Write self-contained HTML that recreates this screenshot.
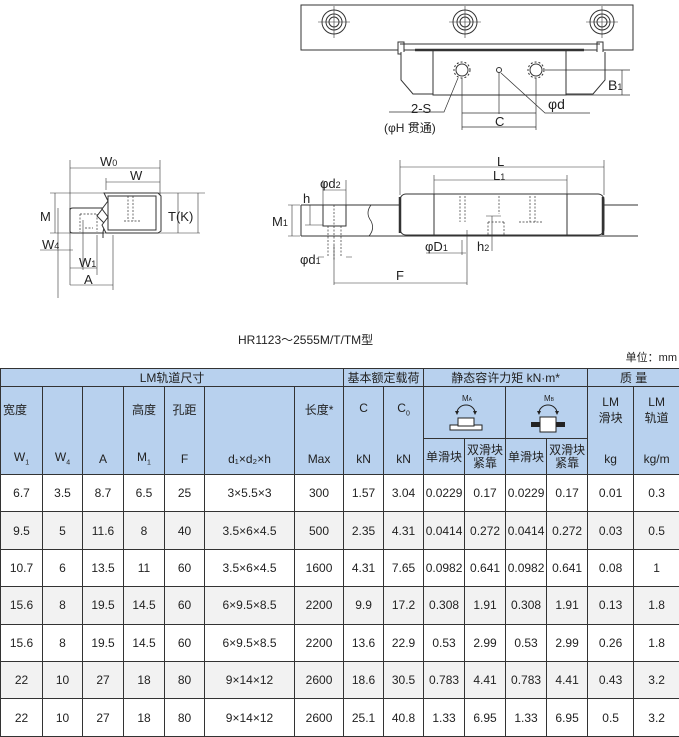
<!DOCTYPE html>
<html><head><meta charset="utf-8"><style>
body{margin:0;width:679px;height:736px;background:#fff;position:relative;overflow:hidden;font-family:"Liberation Sans","Noto Sans CJK SC",sans-serif;color:#222}
svg text{font-family:"Liberation Sans","Noto Sans CJK SC",sans-serif;fill:#222}
table{position:absolute;left:0;top:368px;border-collapse:collapse;table-layout:fixed;width:679px;font-size:12px}
td{border:1px solid #333;text-align:center;padding:0;position:relative}
.h td{background:#b8d1ee}
.d td{height:36.4px}
.g td{background:#f2f2f2}
.t{position:absolute;left:0;right:0;top:14px}
.b{position:absolute;left:0;right:0;bottom:8px}
.tt{position:absolute;left:0;right:0;top:8px}
</style></head><body>
<svg width="679" height="360" style="position:absolute;left:0;top:0" stroke="#333" fill="none" stroke-width="1">
<rect x="301" y="5" width="332" height="45"/>
<g>
<circle cx="334" cy="22" r="12"/><circle cx="334" cy="22" r="8"/><circle cx="334" cy="22" r="5"/>
<circle cx="465" cy="22" r="12"/><circle cx="465" cy="22" r="8"/><circle cx="465" cy="22" r="5"/>
<circle cx="602" cy="22" r="12"/><circle cx="602" cy="22" r="8"/><circle cx="602" cy="22" r="5"/>
<path d="M318 22h32M334 6v32M449 22h32M465 6v32M586 22h32M602 6v32" stroke-width=".6"/>
</g>
<rect x="398" y="42" width="6" height="12" fill="#fff"/><rect x="597" y="42" width="6" height="12" fill="#fff"/>
<path d="M400 44h200 M401 52v28l12 14h180l12-14v-28" fill="#fff"/>
<rect x="433" y="50" width="133" height="45" fill="#fff"/>
<path d="M415 50h169" stroke-width="2.5"/>
<circle cx="462" cy="70" r="6"/><circle cx="462" cy="70" r="8" stroke-dasharray="2 2"/>
<circle cx="536" cy="70" r="6"/><circle cx="536" cy="70" r="8" stroke-dasharray="2 2"/>
<circle cx="499" cy="70" r="2.5"/>
<path d="M462 78v52M536 78v52M499 72v42M462 113h74M462 127h74M545 70h85M566 95h64M622 70v25M458 78l-14 34h-55M501 73l44 40h45" stroke-width=".7"/>
<text x="608" y="90" font-size="14" stroke="none">B<tspan font-size="9">1</tspan></text>
<text x="411" y="113" font-size="13" stroke="none">2-S</text>
<text x="384" y="132" font-size="12" stroke="none">(φH 贯通)</text>
<text x="548" y="109" font-size="14" stroke="none">φd</text>
<text x="495" y="126" font-size="13" stroke="none">C</text>
<path d="M70 210 q0-2 3-2 h30 l-6 8 l8 8 l-2 8 v6 M72 233h32 M70 208v23q0 2 3 2" fill="#fff"/>
<path d="M106 193h52l3 3v35l-3 2h-52l-4-8 6-8-6-8 6-8-4-8z" fill="#fff"/>
<rect x="108" y="196" width="48" height="34" fill="none"/>
<path d="M80 214v18M97 214v18M80 214h17M85 228h8M128 196v25M133 196v25M124 221h16" stroke-dasharray="2 1.5" stroke-width=".7"/>
<path d="M70 160v125M160 160v35M106 178v12M70 168h90M106 182h54M50 193h132M50 233h150M55 193v40M178 193v40M198 193v40M40 250h33M58 208v90M83 220v50M97 235v40M113 235v55M70 268h27M70 285h43M160 193h45" stroke-width=".6"/>
<text x="100" y="166" font-size="13" stroke="none">W<tspan font-size="9">0</tspan></text>
<text x="130" y="180" font-size="13" stroke="none">W</text>
<text x="40" y="221" font-size="13" stroke="none">M</text>
<text x="168" y="221" font-size="13" stroke="none">T(K)</text>
<text x="42" y="249" font-size="13" stroke="none">W<tspan font-size="9">4</tspan></text>
<text x="79" y="267" font-size="13" stroke="none">W<tspan font-size="9">1</tspan></text>
<text x="84" y="284" font-size="13" stroke="none">A</text>
<path d="M301 205h337M301 236h337M301 205v31" />
<path d="M371 205q-6 8 0 16q4 8 -2 15" stroke-width=".8" fill="#fff"/>
<rect x="400" y="194" width="204" height="41" rx="6" fill="#fff"/>
<path d="M400 197v36M603 197v38" stroke-width="2.5"/>
<path d="M434 194v41M567 194v41"/>
<rect x="323" y="205" width="23" height="21" fill="#fff"/>
<path d="M328 226v31M341 226v31M334 205v55M460 196v26M465 196v26M530 196v26M535 196v26M499 196v18M488 222h16M519 222h24M488 222v13M504 222v13" stroke-dasharray="2 1.5" stroke-width=".7"/>
<path d="M400 160v35M604 160v35M434 175v20M567 175v20M400 167h204M434 180h133M292 205v31M288 205h12M288 236h12M310 205v20M305 225h18M323 180v25M346 180v25M323 190h23M324 257h-6M346 257h6M334 245v40M467 230v55M334 283h133M426 253h40M462 240v15M492 216v35M486 216h15" stroke-width=".6"/>
<text x="497" y="166" font-size="13" stroke="none">L</text>
<text x="493" y="180" font-size="13" stroke="none">L<tspan font-size="9">1</tspan></text>
<text x="320" y="188" font-size="13" stroke="none">φd<tspan font-size="9">2</tspan></text>
<text x="303" y="203" font-size="13" stroke="none">h</text>
<text x="272" y="226" font-size="13" stroke="none">M<tspan font-size="9">1</tspan></text>
<text x="300" y="264" font-size="13" stroke="none">φd<tspan font-size="9">1</tspan></text>
<text x="425" y="251" font-size="13" stroke="none">φD<tspan font-size="9">1</tspan></text>
<text x="477" y="251" font-size="13" stroke="none">h<tspan font-size="9">2</tspan></text>
<text x="396" y="280" font-size="13" stroke="none">F</text>
<text x="238" y="344" font-size="12" stroke="none">HR1123～2555M/T/TM型</text>
</svg>
<div style="position:absolute;right:2px;top:349px;font-size:11px">单位：mm</div>
<table>
<colgroup><col style="width:42px"><col style="width:40px"><col style="width:41px"><col style="width:41px"><col style="width:40px"><col style="width:90px"><col style="width:49px"><col style="width:40px"><col style="width:40px"><col style="width:41px"><col style="width:41px"><col style="width:41px"><col style="width:41px"><col style="width:46px"><col style="width:46px"></colgroup>
<tr class="h" style="height:18px"><td colspan="7">LM轨道尺寸</td><td colspan="2">基本额定载荷</td><td colspan="4">静态容许力矩 kN·m*</td><td colspan="2">质 量</td></tr>
<tr class="h" style="height:52px">
<td rowspan="2"><span class="t" style="text-align:left;padding-left:2px">宽度</span><span class="b">W<sub style="font-size:7px">1</sub></span></td>
<td rowspan="2"><span class="b">W<sub style="font-size:7px">4</sub></span></td>
<td rowspan="2"><span class="b">A</span></td>
<td rowspan="2"><span class="t">高度</span><span class="b">M<sub style="font-size:7px">1</sub></span></td>
<td rowspan="2"><span class="t">孔距</span><span class="b">F</span></td>
<td rowspan="2"><span class="b">d₁×d₂×h</span></td>
<td rowspan="2"><span class="t">长度*</span><span class="b">Max</span></td>
<td rowspan="2"><span class="t">C</span><span class="b">kN</span></td>
<td rowspan="2"><span class="t">C<sub style="font-size:7px">0</sub></span><span class="b">kN</span></td>
<td colspan="2"><svg width="60" height="44" style="display:block;margin:auto"><text x="27" y="10" font-size="8">M<tspan font-size="5">A</tspan></text><path d="M22 22 a9 8 0 0 1 18 0" stroke="#222" fill="none"/><path d="M20 20l2 4 2-4M38 20l2 4 2-4" fill="#222"/><rect x="15" y="34" width="32" height="5" fill="#fff" stroke="#222"/><rect x="23" y="27" width="16" height="8" fill="#fff" stroke="#222"/></svg></td>
<td colspan="2"><svg width="60" height="44" style="display:block;margin:auto"><text x="27" y="10" font-size="8">M<tspan font-size="5">B</tspan></text><path d="M22 22 a9 8 0 0 1 18 0" stroke="#222" fill="none"/><path d="M20 20l2 4 2-4M38 20l2 4 2-4" fill="#222"/><rect x="14" y="31" width="34" height="5" fill="#222"/><rect x="23" y="26" width="16" height="15" fill="#fff" stroke="#222"/></svg></td>
<td rowspan="2"><span class="tt">LM<br>滑块</span><span class="b">kg</span></td>
<td rowspan="2"><span class="tt">LM<br>轨道</span><span class="b">kg/m</span></td>
</tr>
<tr class="h" style="height:36px"><td>单滑块</td><td style="line-height:13px">双滑块<br>紧靠</td><td>单滑块</td><td style="line-height:13px">双滑块<br>紧靠</td></tr>
<tr class="d"><td>6.7</td><td>3.5</td><td>8.7</td><td>6.5</td><td>25</td><td>3×5.5×3</td><td>300</td><td>1.57</td><td>3.04</td><td>0.0229</td><td>0.17</td><td>0.0229</td><td>0.17</td><td>0.01</td><td>0.3</td></tr>
<tr class="d g"><td>9.5</td><td>5</td><td>11.6</td><td>8</td><td>40</td><td>3.5×6×4.5</td><td>500</td><td>2.35</td><td>4.31</td><td>0.0414</td><td>0.272</td><td>0.0414</td><td>0.272</td><td>0.03</td><td>0.5</td></tr>
<tr class="d"><td>10.7</td><td>6</td><td>13.5</td><td>11</td><td>60</td><td>3.5×6×4.5</td><td>1600</td><td>4.31</td><td>7.65</td><td>0.0982</td><td>0.641</td><td>0.0982</td><td>0.641</td><td>0.08</td><td>1</td></tr>
<tr class="d g"><td>15.6</td><td>8</td><td>19.5</td><td>14.5</td><td>60</td><td>6×9.5×8.5</td><td>2200</td><td>9.9</td><td>17.2</td><td>0.308</td><td>1.91</td><td>0.308</td><td>1.91</td><td>0.13</td><td>1.8</td></tr>
<tr class="d"><td>15.6</td><td>8</td><td>19.5</td><td>14.5</td><td>60</td><td>6×9.5×8.5</td><td>2200</td><td>13.6</td><td>22.9</td><td>0.53</td><td>2.99</td><td>0.53</td><td>2.99</td><td>0.26</td><td>1.8</td></tr>
<tr class="d g"><td>22</td><td>10</td><td>27</td><td>18</td><td>80</td><td>9×14×12</td><td>2600</td><td>18.6</td><td>30.5</td><td>0.783</td><td>4.41</td><td>0.783</td><td>4.41</td><td>0.43</td><td>3.2</td></tr>
<tr class="d"><td>22</td><td>10</td><td>27</td><td>18</td><td>80</td><td>9×14×12</td><td>2600</td><td>25.1</td><td>40.8</td><td>1.33</td><td>6.95</td><td>1.33</td><td>6.95</td><td>0.5</td><td>3.2</td></tr>
</table>
</body></html>
